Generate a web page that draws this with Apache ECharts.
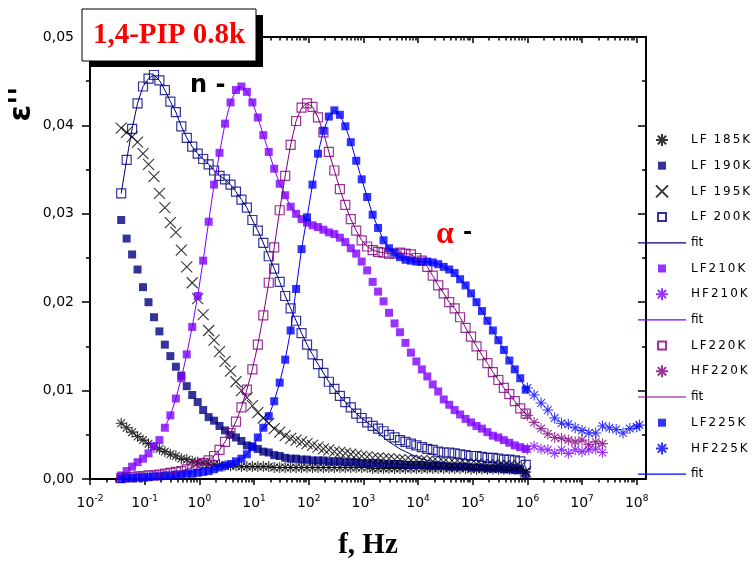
<!DOCTYPE html>
<html>
<head>
<meta charset="utf-8">
<script src="https://cdn.jsdelivr.net/npm/echarts@6/dist/echarts.min.js"></script>
<style>
  html, body { margin: 0; padding: 0; background: #fff; }
  #chart { width: 755px; height: 565px; }
</style>
</head>
<body>
<div id="chart"></div>
<script>
// low-frequency sweep, Hz (10 points per decade)
const LF_FREQ = [
  0.0372, 0.0468, 0.0589, 0.0741, 0.0933, 0.1175, 0.148, 0.186, 0.234, 0.295,
  0.372, 0.468, 0.589, 0.741, 0.933, 1.175, 1.48, 1.86, 2.34, 2.95,
  3.72, 4.68, 5.89, 7.41, 9.33, 11.75, 14.8, 18.6, 23.4, 29.5,
  37.2, 46.8, 58.9, 74.1, 93.3, 117.5, 148, 186, 234, 295,
  372, 468, 589, 741, 933, 1175, 1480, 1860, 2340, 2950,
  3720, 4680, 5890, 7410, 9330, 11750, 14800, 18600, 23400, 29500,
  37200, 46800, 58900, 74100, 93300, 117500, 148000, 186000, 234000, 295000,
  372000, 468000, 589000, 741000, 933000
];
// high-frequency sweep, Hz
const HF_FREQ = [
  1.0e6, 1.33e6, 1.78e6, 2.37e6, 3.16e6, 4.22e6, 5.62e6, 7.5e6, 1.0e7, 1.33e7,
  1.78e7, 2.37e7, 3.16e7, 4.22e7, 5.62e7, 7.5e7, 1.0e8, 1.12e8
];

const LF185 = [
  0.0063, 0.0058, 0.0053, 0.0048, 0.0044, 0.0040, 0.0036, 0.0034, 0.0031, 0.0028,
  0.0026, 0.0023, 0.0022, 0.0020, 0.0019, 0.0018, 0.0017, 0.0016, 0.0016, 0.0015,
  0.0015, 0.0015, 0.0014, 0.0014, 0.0014, 0.0014, 0.0014, 0.0014, 0.0013, 0.0013,
  0.0013, 0.0013, 0.0013, 0.0013, 0.0013, 0.0013, 0.0013, 0.0013, 0.0013, 0.0013,
  0.0013, 0.0013, 0.0013, 0.0013, 0.0013, 0.0013, 0.0012, 0.0012, 0.0012, 0.0012,
  0.0012, 0.0012, 0.0012, 0.0012, 0.0012, 0.0012, 0.0012, 0.0012, 0.0012, 0.0012,
  0.0012, 0.0012, 0.0012, 0.0012, 0.0011, 0.0011, 0.0011, 0.0011, 0.0011, 0.0011,
  0.0011, 0.0011, 0.0011, 0.0010, 0.0008
];
const LF190 = [
  0.0293, 0.0272, 0.0254, 0.0237, 0.0217, 0.0200, 0.0183, 0.0167, 0.0152, 0.0139,
  0.0127, 0.0117, 0.0105, 0.0095, 0.0087, 0.0078, 0.0070, 0.0066, 0.0060, 0.0055,
  0.0050, 0.0047, 0.0043, 0.0038, 0.0037, 0.0034, 0.0031, 0.0030, 0.0027, 0.0026,
  0.0024, 0.0023, 0.0023, 0.0022, 0.0022, 0.0021, 0.0021, 0.0021, 0.0020, 0.0020,
  0.0020, 0.0019, 0.0019, 0.0019, 0.0018, 0.0018, 0.0018, 0.0018, 0.0017, 0.0017,
  0.0017, 0.0017, 0.0016, 0.0016, 0.0016, 0.0016, 0.0015, 0.0015, 0.0015, 0.0015,
  0.0014, 0.0014, 0.0014, 0.0014, 0.0013, 0.0013, 0.0013, 0.0012, 0.0012, 0.0012,
  0.0011, 0.0011, 0.0010, 0.0010, 0.0005
];
const LF195 = [
  0.0397, 0.0392, 0.0387, 0.0381, 0.0368, 0.0356, 0.0342, 0.0323, 0.0307, 0.0290,
  0.0279, 0.0259, 0.0240, 0.0222, 0.0204, 0.0186, 0.0168, 0.0157, 0.0144, 0.0133,
  0.0122, 0.0110, 0.0100, 0.0092, 0.0083, 0.0075, 0.0069, 0.0063, 0.0057, 0.0053,
  0.0049, 0.0046, 0.0044, 0.0042, 0.0040, 0.0038, 0.0036, 0.0034, 0.0033, 0.0031,
  0.0030, 0.0029, 0.0028, 0.0027, 0.0026, 0.0025, 0.0024, 0.0024, 0.0023, 0.0023,
  0.0022, 0.0022, 0.0021, 0.0021, 0.0021, 0.0021, 0.0020, 0.0020, 0.0019, 0.0019,
  0.0018, 0.0018, 0.0018, 0.0017, 0.0017, 0.0017, 0.0016, 0.0016, 0.0016, 0.0015,
  0.0015, 0.0015, 0.0014, 0.0014, 0.0008
];
const LF200 = [
  0.0323, 0.0361, 0.0396, 0.0425, 0.0444, 0.0453, 0.0457, 0.0451, 0.0440, 0.0427,
  0.0415, 0.0399, 0.0386, 0.0376, 0.0368, 0.0362, 0.0356, 0.0349, 0.0343, 0.0339,
  0.0333, 0.0325, 0.0316, 0.0307, 0.0293, 0.0281, 0.0267, 0.0252, 0.0238, 0.0223,
  0.0207, 0.0193, 0.0179, 0.0165, 0.0152, 0.0141, 0.0130, 0.0120, 0.0110, 0.0102,
  0.0094, 0.0087, 0.0081, 0.0074, 0.0069, 0.0064, 0.0060, 0.0057, 0.0054, 0.0050,
  0.0047, 0.0044, 0.0042, 0.0040, 0.0038, 0.0036, 0.0034, 0.0033, 0.0031, 0.0030,
  0.0030, 0.0029, 0.0028, 0.0027, 0.0026, 0.0026, 0.0025, 0.0024, 0.0024, 0.0023,
  0.0022, 0.0022, 0.0021, 0.0020, 0.0016
];
// the 200K fit leaves the points above ~1 kHz
const FIT200_TAIL = [
  0.0064, 0.0059, 0.0053, 0.0047, 0.0042, 0.0038, 0.0034, 0.0031, 0.0028, 0.0025,
  0.0023, 0.0021, 0.0020, 0.0019, 0.0018, 0.0017, 0.0017, 0.0016, 0.0016, 0.0015,
  0.0015, 0.0014, 0.0013, 0.0013, 0.0012, 0.0011, 0.0011, 0.0010, 0.0009, 0.0009
];
const LF210 = [
  0.0004, 0.0009, 0.0014, 0.0019, 0.0023, 0.0029, 0.0037, 0.0044, 0.0058, 0.0072,
  0.0091, 0.0114, 0.0141, 0.0172, 0.0207, 0.0247, 0.0291, 0.0333, 0.0369, 0.0402,
  0.0426, 0.0440, 0.0444, 0.0438, 0.0426, 0.0409, 0.0389, 0.0370, 0.0351, 0.0334,
  0.0321, 0.0308, 0.0300, 0.0294, 0.0290, 0.0287, 0.0285, 0.0282, 0.0279, 0.0277,
  0.0273, 0.0268, 0.0261, 0.0255, 0.0246, 0.0236, 0.0223, 0.0212, 0.0201, 0.0188,
  0.0176, 0.0166, 0.0154, 0.0143, 0.0133, 0.0124, 0.0116, 0.0107, 0.0099, 0.0090,
  0.0084, 0.0078, 0.0073, 0.0068, 0.0064, 0.0060, 0.0057, 0.0053, 0.0049, 0.0047,
  0.0044, 0.0041, 0.0038, 0.0036, 0.0034
];
const HF210 = [0.0034, 0.0037, 0.0034, 0.0033, 0.0029, 0.0033, 0.0029, 0.0033, 0.0031, 0.0033, 0.0034, 0.0030];
const LF220 = [
  0.0001, 0.0002, 0.0002, 0.0003, 0.0003, 0.0004, 0.0004, 0.0005, 0.0006, 0.0007,
  0.0008, 0.0009, 0.0011, 0.0013, 0.0016, 0.0018, 0.0021, 0.0026, 0.0033, 0.0042,
  0.0052, 0.0065, 0.0081, 0.0101, 0.0124, 0.0152, 0.0185, 0.0222, 0.0262, 0.0304,
  0.0343, 0.0378, 0.0405, 0.0420, 0.0425, 0.0421, 0.0409, 0.0392, 0.0370, 0.0349,
  0.0328, 0.0310, 0.0294, 0.0281, 0.0270, 0.0263, 0.0259, 0.0257, 0.0256, 0.0255,
  0.0255, 0.0256, 0.0255, 0.0254, 0.0250, 0.0247, 0.0240, 0.0230, 0.0219, 0.0210,
  0.0200, 0.0193, 0.0183, 0.0171, 0.0161, 0.0150, 0.0140, 0.0131, 0.0121, 0.0112,
  0.0103, 0.0096, 0.0088, 0.0080, 0.0074
];
const HF220 = [0.0072, 0.0064, 0.0057, 0.0051, 0.0047, 0.0046, 0.0044, 0.0042, 0.0044, 0.0039, 0.0042, 0.0040];
const LF225 = [
  0.0000, 0.0001, 0.0001, 0.0002, 0.0002, 0.0002, 0.0003, 0.0003, 0.0004, 0.0004,
  0.0005, 0.0005, 0.0006, 0.0006, 0.0007, 0.0008, 0.0009, 0.0011, 0.0013, 0.0015,
  0.0017, 0.0020, 0.0023, 0.0028, 0.0036, 0.0047, 0.0058, 0.0071, 0.0088, 0.0109,
  0.0135, 0.0168, 0.0215, 0.0260, 0.0296, 0.0333, 0.0368, 0.0394, 0.0410, 0.0417,
  0.0412, 0.0399, 0.0381, 0.0360, 0.0339, 0.0319, 0.0299, 0.0284, 0.0270, 0.0261,
  0.0256, 0.0251, 0.0248, 0.0247, 0.0246, 0.0246, 0.0246, 0.0245, 0.0243, 0.0240,
  0.0237, 0.0233, 0.0226, 0.0219, 0.0210, 0.0200, 0.0190, 0.0179, 0.0168, 0.0157,
  0.0146, 0.0134, 0.0124, 0.0114, 0.0101
];
const HF225 = [
  0.0103, 0.0095, 0.0086, 0.0078, 0.0069, 0.0063, 0.0062, 0.0058, 0.0055, 0.0052,
  0.0052, 0.0060, 0.0058, 0.0056, 0.0052, 0.0057, 0.0059, 0.0061
];

const X_MAJOR = [0.01, 0.1, 1, 10, 100, 1e3, 1e4, 1e5, 1e6, 1e7, 1e8];
const X_MINOR = [];
for (let e = -2; e <= 7; e++) {
  for (let m = 2; m <= 9; m++) X_MINOR.push(Number((m * Math.pow(10, e)).toPrecision(3)));
}
const Y_MINOR = [0.005, 0.015, 0.025, 0.035, 0.045];

const NAVY = '#000080';
const VIOLET = '#8000ff';
const PURPLE = '#800080';
const BLUE = '#0000ff';

const SYM_X = 'path://M0,0L10,10M10,0L0,10';
const SYM_STAR = 'path://M5,0L5,10M0,5L10,5M1.5,1.5L8.5,8.5M8.5,1.5L1.5,8.5';
// legend icons padded inside the 48x12 legend box
const ICON_SQ = 'path://M0,0M12,12M2,2L10,2L10,10L2,10Z';
const ICON_LINE = 'path://M0,5.5L48,5.5L48,6.7L0,6.7Z';

function pts(freq, vals) {
  return vals.map((v, i) => [freq[i], v]);
}
function part(vals, from, to) {
  return vals.map((v, i) => (i >= from && i <= to ? v : null));
}

function filled(name, color, vals, freq) {
  return {
    name: name, type: 'scatter', symbol: 'rect', symbolSize: 8,
    itemStyle: { color: color },
    data: pts(freq, vals)
  };
}
function hollow(name, color, vals, freq) {
  return {
    name: name, type: 'scatter', symbol: 'rect', symbolSize: 9,
    itemStyle: { color: 'transparent', borderColor: color, borderWidth: 1.2 },
    data: pts(freq, vals)
  };
}
function stroked(name, color, sym, size, vals, freq) {
  return {
    name: name, type: 'scatter', symbol: sym, symbolSize: size,
    itemStyle: { color: 'transparent', borderColor: color, borderWidth: 1.1 },
    data: pts(freq, vals)
  };
}
function fit(name, color, vals) {
  return {
    name: name, type: 'line', symbol: 'none', showSymbol: false,
    lineStyle: { color: color, width: 1 }, itemStyle: { color: color },
    connectNulls: false,
    data: pts(LF_FREQ, vals)
  };
}

const series = [
  stroked('LF 185K', '#000', SYM_STAR, 11, LF185, LF_FREQ),
  filled('LF 190K', NAVY, LF190, LF_FREQ),
  stroked('LF 195K', '#000', SYM_X, 11, LF195, LF_FREQ),
  hollow('LF 200K', NAVY, LF200, LF_FREQ),
  fit('fit1', NAVY, LF200.slice(0, 45).concat(FIT200_TAIL)),
  filled('LF210K', VIOLET, LF210, LF_FREQ),
  stroked('HF210K', VIOLET, SYM_STAR, 11, HF210, HF_FREQ),
  fit('fit2', VIOLET, part(LF210, 8, 32)),
  hollow('LF220K', PURPLE, LF220, LF_FREQ),
  stroked('HF220K', PURPLE, SYM_STAR, 11, HF220, HF_FREQ),
  fit('fit3', PURPLE, part(LF220, 5, 74)),
  filled('LF225K', BLUE, LF225, LF_FREQ),
  stroked('HF225K', BLUE, SYM_STAR, 11, HF225, HF_FREQ),
  fit('fit4', BLUE, part(LF225, 16, 74))
];

const legendData = series.map(s => {
  const item = { name: s.name };
  if (s.symbol === 'rect') item.icon = ICON_SQ;
  if (s.type === 'line') item.icon = ICON_LINE;
  return item;
});

// spaced-out legend lettering
function spaced(name) {
  if (name.indexOf('fit') === 0) return 'fit';
  return name.split('').map(c => (c === ' ' ? '{sp| }' : '{c|' + c + '}')).join('');
}

const X_MIN = 0.01;
const X_MAX = 1.48e8;
const axisLineStyle = { color: '#000', width: 2 };
const tickStyle = { color: '#000', width: 1.5 };

function xAxisBase(pos) {
  return {
    type: 'log', logBase: 10, min: X_MIN, max: X_MAX, position: pos,
    axisLine: { show: false, onZero: false, lineStyle: axisLineStyle },
    splitLine: { show: false },
    axisLabel: { show: false },
    axisTick: { show: true, lineStyle: tickStyle }
  };
}
const xBottom = xAxisBase('bottom');
xBottom.axisLine.show = true;
xBottom.axisTick.customValues = X_MAJOR;
xBottom.axisTick.length = 6;
xBottom.name = 'f, Hz';
xBottom.nameLocation = 'middle';
xBottom.nameGap = 52;
xBottom.nameTextStyle = { fontFamily: 'Liberation Serif', fontWeight: 'bold', fontSize: 29, color: '#000' };
xBottom.axisLabel = {
  show: true, customValues: X_MAJOR, margin: 15,
  formatter: v => '{b|10}{s|' + Math.round(Math.log10(v)) + '}',
  rich: {
    b: { fontFamily: 'DejaVu Sans', fontSize: 14, color: '#000', lineHeight: 18 },
    s: { fontFamily: 'DejaVu Sans', fontSize: 9, color: '#000', verticalAlign: 'top', lineHeight: 10 }
  }
};
const xBottomMinor = xAxisBase('bottom');
xBottomMinor.axisTick.customValues = X_MINOR;
xBottomMinor.axisTick.length = 3.5;
const xTop = xAxisBase('top');
xTop.axisLine.show = true;
xTop.axisTick.customValues = X_MAJOR;
xTop.axisTick.inside = true;
xTop.axisTick.length = 6;
const xTopMinor = xAxisBase('top');
xTopMinor.axisTick.customValues = X_MINOR;
xTopMinor.axisTick.inside = true;
xTopMinor.axisTick.length = 3.5;

const option = {
  animation: false,
  backgroundColor: '#fff',
  grid: { left: 90, right: 109, top: 37, bottom: 78, containLabel: false },
  xAxis: [xBottom, xBottomMinor, xTop, xTopMinor],
  yAxis: [
    {
      type: 'value', min: 0, max: 0.05, interval: 0.01, position: 'left',
      axisLine: { show: true, onZero: false, lineStyle: axisLineStyle },
      axisTick: { show: true, length: 8, lineStyle: tickStyle },
      minorTick: { show: true, splitNumber: 2, length: 4, lineStyle: tickStyle },
      splitLine: { show: false },
      axisLabel: {
        margin: 16, fontFamily: 'DejaVu Sans', fontSize: 14, color: '#000',
        formatter: v => v.toFixed(2).replace('.', ',')
      }
    },
    {
      type: 'value', min: 0, max: 0.05, interval: 0.01, position: 'right',
      axisLine: { show: true, onZero: false, lineStyle: axisLineStyle },
      axisTick: { show: true, inside: true, length: 8, lineStyle: tickStyle },
      splitLine: { show: false },
      axisLabel: { show: false }
    },
    {
      type: 'value', min: 0, max: 0.05, position: 'right',
      axisLine: { show: false, onZero: false },
      axisTick: { show: true, inside: true, length: 4, customValues: Y_MINOR, lineStyle: tickStyle },
      splitLine: { show: false },
      axisLabel: { show: false }
    }
  ],
  legend: {
    orient: 'vertical', left: 633, top: 127,
    itemWidth: 48, itemHeight: 12, itemGap: 9.7,
    selectedMode: false,
    data: legendData,
    formatter: spaced,
    textStyle: {
      fontFamily: 'DejaVu Sans', fontSize: 12, color: '#000', lineHeight: 16,
      rich: {
        c: { fontFamily: 'DejaVu Sans', fontSize: 12, color: '#000', padding: [0, 2, 0, 0] },
        sp: { fontFamily: 'DejaVu Sans', fontSize: 12, color: '#000', padding: [0, 1, 0, 0] }
      }
    }
  },
  graphic: [
    { type: 'rect', z: 100, shape: { x: 89, y: 15, width: 174, height: 52 }, style: { fill: '#000' } },
    { type: 'rect', z: 101, shape: { x: 82, y: 9, width: 174, height: 52 }, style: { fill: '#fff', stroke: '#000', lineWidth: 1 } },
    {
      type: 'text', z: 102, x: 169, y: 36,
      style: { text: '1,4-PIP 0.8k', align: 'center', verticalAlign: 'middle', fill: '#ff0000', font: 'bold 29px "Liberation Serif"' }
    },
    {
      type: 'text', z: 102, x: 22, y: 104, rotation: Math.PI / 2,
      style: { text: "\u03b5''", align: 'center', verticalAlign: 'middle', fill: '#000', font: 'bold 30px "DejaVu Sans"' }
    },
    {
      type: 'text', z: 102, x: 190, y: 74,
      style: { text: 'n -', fill: '#000', font: 'bold 24px "DejaVu Sans"' }
    },
    {
      type: 'text', z: 102, x: 436, y: 219,
      style: { text: '\u03b1', fill: '#ff0000', font: 'bold 32px "Liberation Serif"' }
    },
    {
      type: 'text', z: 102, x: 463, y: 222,
      style: { text: '-', fill: '#000', font: 'bold 22px "DejaVu Sans"' }
    }
  ],
  series: series
};

const chart = echarts.init(document.getElementById('chart'));
chart.setOption(option);
</script>
</body>
</html>
